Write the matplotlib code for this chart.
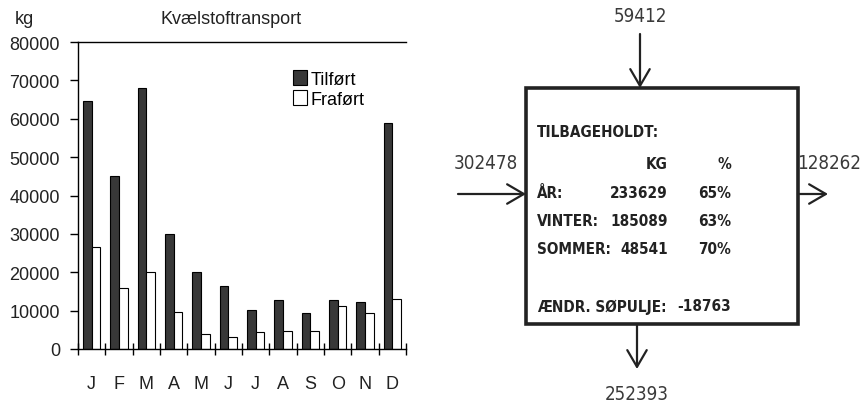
import matplotlib
matplotlib.use("Agg")
import matplotlib.pyplot as plt
from matplotlib.patches import Rectangle

# monthly nitrogen transport, kg
months = ["J", "F", "M", "A", "M", "J", "J", "A", "S", "O", "N", "D"]
tilfoert = [64500, 45000, 68000, 30000, 20000, 16300, 10200, 12800, 9500, 12700, 12200, 58900]
frafoert = [26600, 16000, 20000, 9700, 4000, 3000, 4300, 4700, 4600, 11300, 9500, 13000]
series_names = ["Tilført", "Fraført"]

# balance box
flow_in_top = "59412"
flow_in_left = "302478"
flow_out_right = "128262"
flow_out_bottom = "252393"
row_names = ["ÅR:", "VINTER:", "SOMMER:"]
row_kg = ["233629", "185089", "48541"]
row_pct = ["65%", "63%", "70%"]
pool_change = "-18763"

W, H = 866, 410
fig = plt.figure(figsize=(W / 100, H / 100), dpi=100)

chart_font = ["Liberation Sans", "DejaVu Sans"]
narrow_font = ["DejaVu Sans"]

# ---- bar chart ----
ax = fig.add_axes([78 / W, 1 - 350 / H, (406 - 78) / W, (350 - 43) / H])
x = list(range(len(months)))
w = 0.32
ax.bar([i - 0.16 for i in x], tilfoert, width=w, color="#383838", edgecolor="black", lw=0.8, label=series_names[0])
ax.bar([i + 0.16 for i in x], frafoert, width=w, color="white", edgecolor="black", lw=0.8, label=series_names[1])
ax.set_xlim(-0.5, 11.5)
ax.set_ylim(0, 80000)
ax.set_yticks(range(0, 80001, 10000))
ax.set_yticklabels([str(v) for v in range(0, 80001, 10000)], family=chart_font, fontsize=13, color="#222222")
ax.set_xticks(x)
ax.set_xticklabels(months, family=chart_font, fontsize=13, color="#222222")
ax.set_xticks([i - 0.5 for i in range(13)], minor=True)
ax.tick_params(axis="x", which="major", length=0, pad=19)
ax.tick_params(axis="x", which="minor", direction="inout", length=9, width=1)
ax.tick_params(axis="y", direction="out", length=6, width=1, pad=7)
ax.spines["right"].set_visible(False)
for s in ["left", "bottom", "top"]:
    ax.spines[s].set_linewidth(1.0)
ax.legend(loc="upper left", bbox_to_anchor=(284 / W, 1 - 62 / H), bbox_transform=fig.transFigure,
          frameon=False, handlelength=0.75, handleheight=0.9, handletextpad=0.2, labelspacing=0.15,
          borderpad=0, prop={"family": chart_font, "size": 13})
fig.text(24 / W, 1 - 20 / H, "kg", ha="center", va="center", family=chart_font, fontsize=13, color="#222222")
fig.text(231 / W, 1 - 20 / H, "Kvælstoftransport", ha="center", va="center", family=chart_font, fontsize=13, color="#222222")

# ---- balance diagram (pixel coordinates) ----
dx = fig.add_axes([0, 0, 1, 1], zorder=-1)
dx.set_xlim(0, W)
dx.set_ylim(H, 0)
dx.axis("off")
dx.add_patch(Rectangle((526, 89), 272, 236, fill=False, lw=2.6, ec="#222222"))

arrow = dict(arrowstyle="->,head_length=0.6,head_width=0.35", lw=1.6, color="#222222", mutation_scale=20, shrinkA=0, shrinkB=0)
dx.annotate("", xy=(640, 89), xytext=(640, 35), arrowprops=arrow)
dx.annotate("", xy=(526, 195), xytext=(458, 195), arrowprops=arrow)
dx.annotate("", xy=(828, 195), xytext=(798, 195), arrowprops=arrow)
dx.annotate("", xy=(637, 370), xytext=(637, 325), arrowprops=arrow)

lab = dict(ha="center", va="center", family=narrow_font, fontstretch="condensed", fontsize=13.5, color="#3a3a3a")
dx.text(640, 16, flow_in_top, **lab)
dx.text(486, 164, flow_in_left, **lab)
dx.text(829, 164, flow_out_right, **lab)
dx.text(637, 395, flow_out_bottom, **lab)

box = dict(va="center", family=narrow_font, fontstretch="condensed", fontsize=11, fontweight="bold", color="#222222")
dx.text(537, 133, "TILBAGEHOLDT:", ha="left", **box)
dx.text(668, 165, "KG", ha="right", **box)
dx.text(731, 165, "%", ha="right", **box)
for i in range(len(row_names)):
    y = 194 + 28 * i
    dx.text(537, y, row_names[i], ha="left", **box)
    dx.text(668, y, row_kg[i], ha="right", **box)
    dx.text(731, y, row_pct[i], ha="right", **box)
dx.text(537, 307, "ÆNDR. SØPULJE:", ha="left", **box)
dx.text(731, 307, pool_change, ha="right", **box)

fig.savefig("out.png", dpi=100)
